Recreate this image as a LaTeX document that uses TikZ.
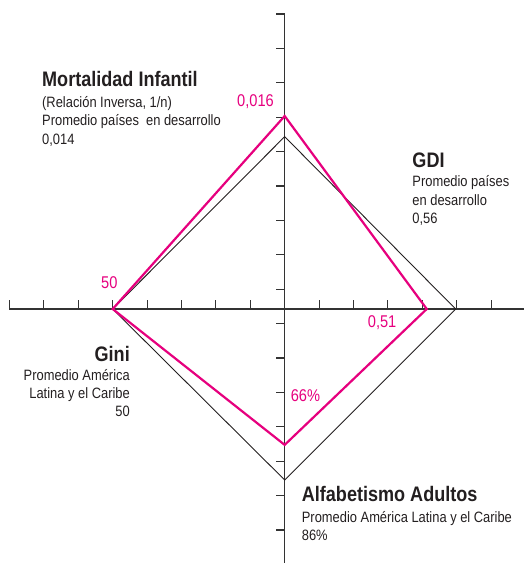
\documentclass[tikz,border=0pt]{standalone}
\usepackage{fontspec}
\setmainfont{Liberation Sans}[FakeStretch=0.86]
\usepackage{xcolor}
\definecolor{indexpink}{RGB}{230,0,126}
\definecolor{axisgray}{HTML}{333333}
\definecolor{inkgray}{HTML}{231F20}

\begin{document}
\begin{tikzpicture}[x=34.4pt,y=34.4pt,
    axisline/.style={axisgray,line width=1.1pt},
    avgline/.style={inkgray,line width=0.9pt},
    cityline/.style={indexpink,line width=2.2pt,line join=miter},
    head/.style={inkgray,inner sep=0pt,font=\fontsize{21}{25}\bfseries},
    note/.style={inkgray,inner sep=0pt,font=\fontsize{15}{18.3}\selectfont},
    value/.style={indexpink,inner sep=0pt,font=\fontsize{17}{20}\selectfont}]
        \useasboundingbox (-8.276,-7.384) rectangle (6.956,8.983);

        % axes and ticks
        \draw[axisline] (-8,0) -- (6.956,0);
        \draw[axisline] (0,8.576) -- (0,-7.384);
        \foreach \i in {-8,...,-1,1,2,...,6}
            \draw[axisline] (\i,0) -- (\i,0.25);
        \foreach \k in {-7,...,8}
            \draw[axisline] (0,\k+0.576) -- (-0.25,\k+0.576);

        % vertices
        \coordinate (miavg) at (0,5.01);
        \coordinate (gdiavg) at (4.97,0);
        \coordinate (alfavg) at (0,-4.97);
        \coordinate (giniavg) at (-5,0);
        \coordinate (mival) at (0,5.61);
        \coordinate (gdival) at (4.13,0);
        \coordinate (alfval) at (0,-3.95);
        \coordinate (ginival) at (-5,0);

        \draw[avgline] (miavg) -- (gdiavg) -- (alfavg) -- (giniavg) -- cycle;
        \draw[cityline] (mival) -- (gdival) -- (alfval) -- (ginival) -- cycle;

        % labels (base of a note = baseline of its last line)
        \node[head,anchor=base west] (mi) at (-7.055,6.462) {Mortalidad Infantil};
        \node[note,anchor=base west,align=left] (minote) at (-7.055,4.788)
            {(Relación Inversa, 1/n)\\Promedio países\ \ en desarrollo\\0,014};
        \node[head,anchor=base west] (gdi) at (3.709,4.119) {GDI};
        \node[note,anchor=base west,align=left] (gdinote) at (3.709,2.491)
            {Promedio países\\en desarrollo\\0,56};
        \node[head,anchor=base east] (gini) at (-4.497,-1.532) {Gini};
        \node[note,anchor=base east,align=right] (gininote) at (-4.497,-3.128)
            {Promedio América\\Latina y el Caribe\\50};
        \node[head,anchor=base west] (alf) at (0.494,-5.602) {Alfabetismo Adultos};
        \node[note,anchor=base west,align=left] (alfnote) at (0.494,-6.744)
            {Promedio América Latina y el Caribe\\86\%};

        \node[value,anchor=base east] (mivalue) at (-0.311,5.881) {0,016};
        \node[value,anchor=base west] (ginivalue) at (-5.340,0.602) {50};
        \node[value,anchor=base west] (gdivalue) at (2.413,-0.552) {0,51};
        \node[value,anchor=base west] (alfvalue) at (0.174,-2.695) {66\%};
    \end{tikzpicture}
\end{document}
